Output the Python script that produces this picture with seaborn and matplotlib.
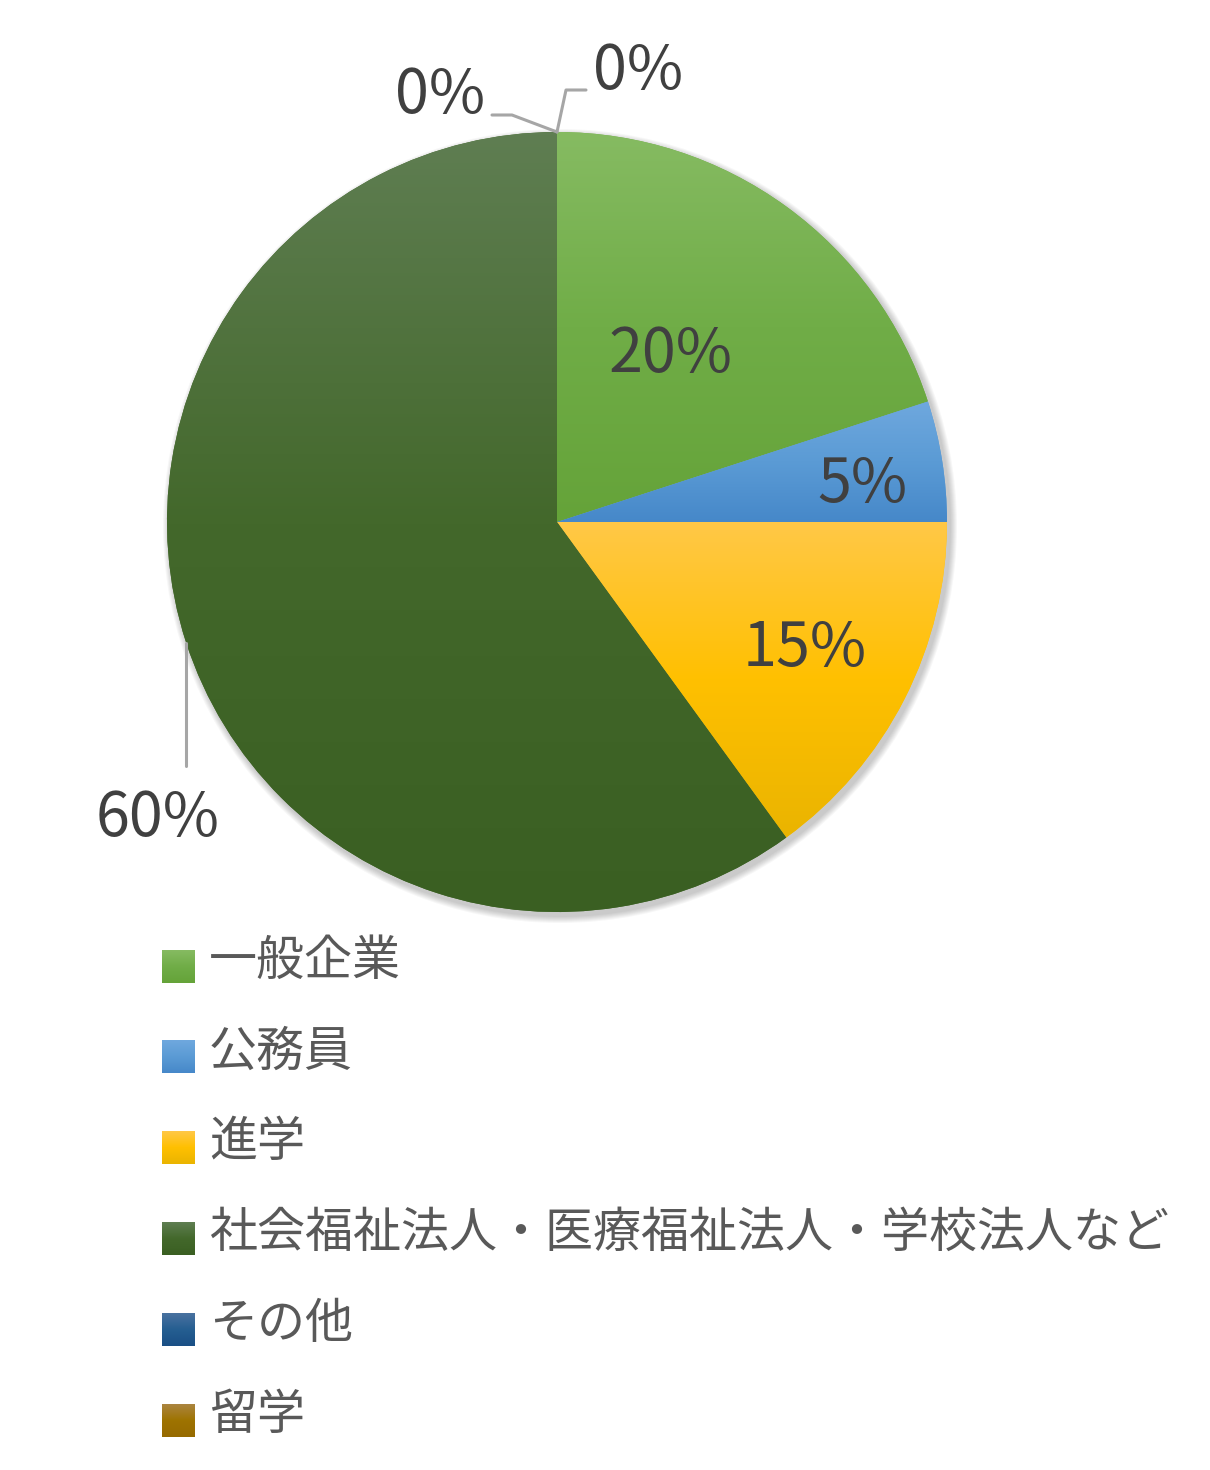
import numpy as np
import matplotlib
matplotlib.use("Agg")
import matplotlib.pyplot as plt
import seaborn as sns
from matplotlib.colors import LinearSegmentedColormap
from matplotlib.patches import Circle

categories = ["一般企業", "公務員", "進学", "社会福祉法人・医療福祉法人・学校法人など", "その他", "留学"]
shares = [20, 5, 15, 60, 0, 0]
pct_labels = ["20%", "5%", "15%", "60%", "0%", "0%"]

# gradient stops per slice: top, middle, bottom
top_colors = ["#86bb62", "#6fa8de", "#ffc847", "#5f7e52", "#4a72a0", "#ab8540"]
base_colors = ["#70ad47", "#5b9bd5", "#ffc000", "#43682b", "#255e91", "#9e7300"]
bottom_colors = ["#65a339", "#4688c9", "#eab400", "#3a5f22", "#1a4f85", "#966a00"]

sns.set_theme(style="white")
plt.rcParams['font.family'] = ['Noto Sans CJK JP', 'DejaVu Sans']

W, H = 1210, 1470
fig = plt.figure(figsize=(W / 100, H / 100), dpi=100)
ax = fig.add_axes([0, 0, 1, 1])

cx, cy, R = 557, H - 522, 390

# soft shadow
for k in range(7):
    ax.add_patch(Circle((cx + 3, cy - 4), R + 7 - k, color="black", alpha=0.03, lw=0, zorder=0))

wedges, _ = ax.pie(shares, colors=base_colors, startangle=90, counterclock=False,
                   center=(cx, cy), radius=R, wedgeprops=dict(linewidth=0))


def grad_cmap(i):
    return LinearSegmentedColormap.from_list(f"g{i}", [top_colors[i], base_colors[i], bottom_colors[i]])


grad = np.linspace(0, 1, 256).reshape(-1, 1)
for i, w in enumerate(wedges):
    if shares[i] == 0:
        continue
    v = w.get_path().vertices
    im = ax.imshow(grad, cmap=grad_cmap(i), aspect="auto", origin="upper",
                   extent=[v[:, 0].min(), v[:, 0].max(), v[:, 1].min(), v[:, 1].max()], zorder=2)
    im.set_clip_path(w)

# inside labels (best-fit placement like Excel)
inside_r = [0.52, 0.79, 0.713]
nudge = [1.8, -2.1, -0.2]
angles = [np.deg2rad((w.theta1 + w.theta2) / 2) for w in wedges]
txt_kw = dict(color="#404040", fontsize=44, ha="center", va="center", zorder=5)
for i in range(3):
    a = angles[i] + np.deg2rad(nudge[i])
    ax.text(cx + inside_r[i] * R * np.cos(a), cy + inside_r[i] * R * np.sin(a), pct_labels[i], **txt_kw)

line_kw = dict(color="#a6a6a6", lw=2.2, zorder=4)
# 60% outside label
a = angles[3]
ex, ey = cx + R * np.cos(a), cy + R * np.sin(a)
ax.plot([ex, ex], [ey, ey - 123], **line_kw)
ax.text(ex - 28, ey - 176, pct_labels[3], **txt_kw)

# 0% slices at the top
tx, ty = cx, cy + R
ax.plot([tx, tx - 45, tx - 65], [ty, ty + 17, ty + 17], **line_kw)
ax.text(tx - 117, ty + 36, pct_labels[5], **txt_kw)
ax.plot([tx, tx + 9, tx + 29], [ty, ty + 42, ty + 42], **line_kw)
ax.text(tx + 81, ty + 60, pct_labels[4], **txt_kw)

# legend
leg_y0, leg_step = H - 966, 90.8
sq = 33
for i, name in enumerate(categories):
    y = leg_y0 - i * leg_step
    ax.imshow(grad, cmap=grad_cmap(i), aspect="auto", origin="upper",
              extent=[162, 162 + sq, y - sq / 2, y + sq / 2], zorder=3)
    ax.text(209, y + 5, name, color="#595959", fontsize=34.6, ha="left", va="center")

ax.set_xlim(0, W)
ax.set_ylim(0, H)
ax.set_aspect("auto")
ax.axis("off")

fig.savefig("out.png", dpi=100)
